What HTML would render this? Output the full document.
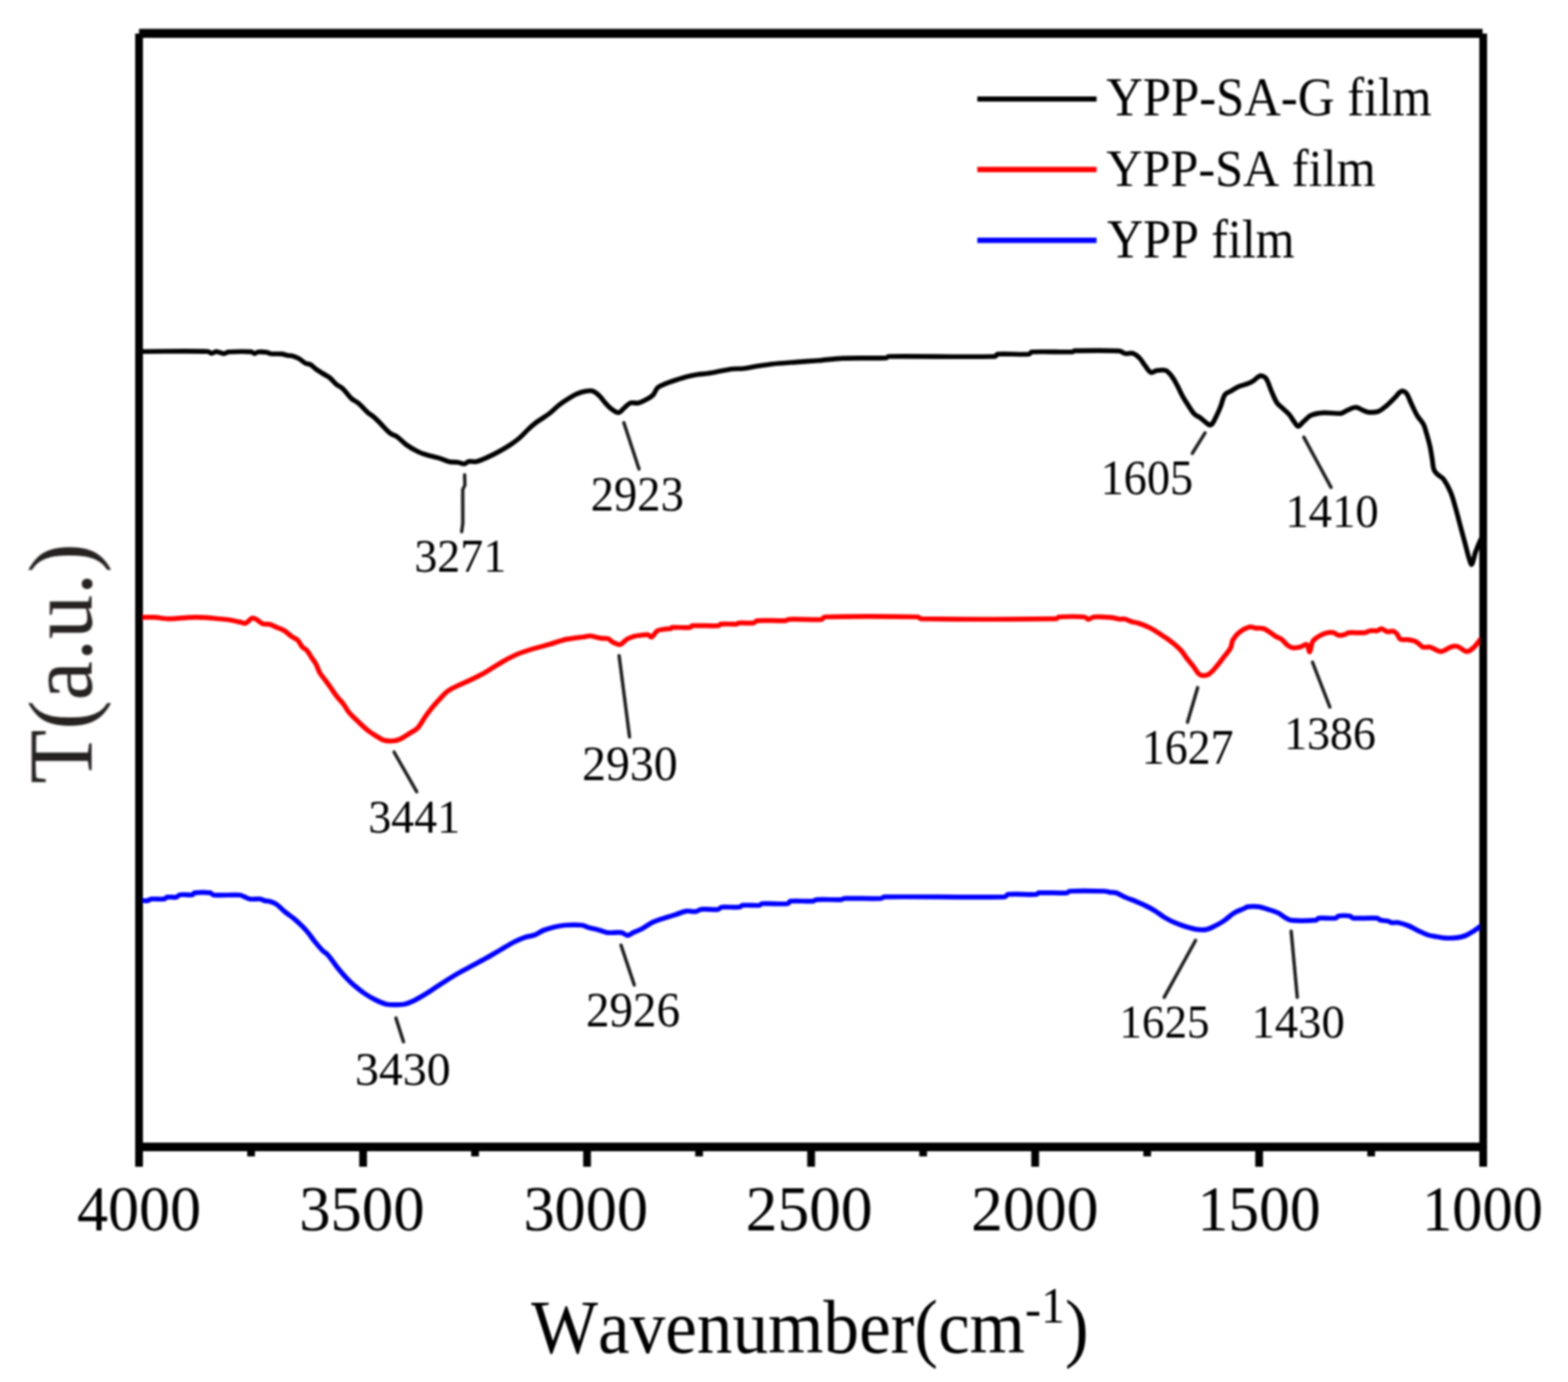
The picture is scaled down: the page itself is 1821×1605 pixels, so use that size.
<!DOCTYPE html><html><head><meta charset="utf-8"><title>FTIR</title><style>html,body{margin:0;padding:0;background:#fff;}svg{display:block;}text{font-family:'Liberation Serif','Times New Roman',serif;font-kerning:none;font-variant-ligatures:none;}</style></head><body>
<svg width="1821" height="1605" viewBox="0 0 1821 1605">
<defs><filter id="soft" x="0" y="0" width="1821" height="1605" filterUnits="userSpaceOnUse"><feGaussianBlur stdDeviation="0.8"/></filter></defs>
<rect width="1821" height="1605" fill="#fff"/>
<g filter="url(#soft)">
<g fill="none" stroke-linejoin="round" stroke-linecap="round">
<path d="M161.0 1045.4 C161.5 1045.4 162.1 1045.4 162.6 1045.4 C165.2 1045.6 167.9 1046.4 170.5 1046.1 C172.3 1045.9 173.9 1044.3 175.8 1044.1 C180.5 1043.6 185.6 1044.7 190.3 1044.1 C191.8 1043.9 192.8 1042.1 194.3 1041.9 C197.7 1041.4 201.5 1042.5 204.8 1041.9 C206.3 1041.6 207.3 1039.4 208.8 1039.2 C213.4 1038.5 218.7 1039.8 223.3 1039.2 C224.4 1039.1 224.8 1037.0 225.9 1036.9 C231.8 1036.3 238.4 1036.2 244.3 1036.9 C245.8 1037.1 246.7 1039.4 248.3 1039.5 C258.2 1040.2 268.6 1038.9 278.6 1039.5 C280.5 1039.6 282.1 1040.8 283.9 1041.5 C286.1 1042.4 288.2 1043.8 290.5 1044.1 C294.3 1044.6 298.4 1043.6 302.3 1044.1 C304.1 1044.3 305.8 1045.7 307.6 1046.1 C309.3 1046.5 311.2 1046.2 312.9 1046.7 C315.6 1047.5 318.5 1048.4 320.8 1050.0 C324.6 1052.6 327.7 1056.3 331.3 1059.3 C334.7 1062.1 338.5 1064.4 341.9 1067.2 C345.1 1069.9 348.2 1072.8 351.1 1075.7 C353.4 1078.0 355.6 1080.5 357.7 1083.0 C360.5 1086.4 362.8 1090.1 365.6 1093.5 C368.5 1097.1 371.5 1100.8 374.8 1104.1 C376.3 1105.7 378.5 1106.6 380.0 1108.2 C382.0 1110.2 383.6 1112.6 385.3 1114.8 C388.0 1118.3 390.4 1122.0 393.2 1125.4 C396.5 1129.5 400.0 1133.4 403.7 1137.2 C406.6 1140.2 409.8 1143.1 413.0 1145.8 C416.0 1148.3 419.0 1150.8 422.2 1153.0 C426.4 1155.9 430.8 1158.6 435.4 1160.9 C439.6 1163.0 444.0 1165.1 448.5 1166.2 C451.9 1167.1 455.6 1166.9 459.1 1166.9 C462.6 1166.9 466.2 1166.9 469.6 1166.2 C473.2 1165.4 476.8 1163.9 480.2 1162.3 C484.7 1160.2 489.0 1157.6 493.3 1155.0 C497.8 1152.3 502.1 1149.3 506.5 1146.4 C510.9 1143.6 515.3 1140.7 519.7 1137.9 C523.6 1135.4 527.6 1132.9 531.6 1130.6 C536.8 1127.6 542.1 1124.9 547.4 1122.1 C553.1 1119.0 558.8 1116.0 564.5 1112.8 C570.2 1109.6 575.9 1106.2 581.6 1102.9 C586.9 1099.8 592.0 1096.5 597.5 1093.7 C601.5 1091.7 605.7 1089.9 610.0 1088.5 C613.4 1087.4 617.2 1087.3 620.5 1086.0 C624.2 1084.6 627.4 1082.0 631.1 1080.5 C635.4 1078.8 639.8 1077.6 644.3 1076.5 C648.2 1075.6 652.1 1074.8 656.1 1074.5 C662.7 1074.1 669.4 1073.9 675.9 1074.5 C678.6 1074.8 681.1 1076.4 683.8 1077.2 C688.2 1078.4 692.6 1079.3 697.0 1080.5 C699.7 1081.2 702.2 1082.8 704.9 1083.1 C710.5 1083.7 716.5 1082.3 722.0 1083.1 C724.4 1083.4 726.4 1086.4 728.6 1086.4 C730.8 1086.4 733.0 1084.1 735.2 1083.1 C738.7 1081.5 742.4 1080.3 745.8 1078.5 C750.3 1076.1 754.3 1072.7 758.9 1070.6 C763.9 1068.3 769.4 1067.0 774.7 1065.3 C778.2 1064.2 781.8 1063.1 785.3 1062.0 C789.3 1060.7 793.1 1058.7 797.2 1058.1 C800.6 1057.6 804.3 1059.1 807.7 1058.7 C810.0 1058.4 812.0 1056.3 814.3 1056.1 C820.7 1055.5 827.6 1056.8 834.0 1056.1 C835.5 1055.9 836.5 1053.7 838.0 1053.5 C844.6 1052.8 851.8 1054.1 858.5 1053.5 C859.9 1053.4 861.0 1051.5 862.4 1051.4 C868.9 1050.8 875.8 1051.9 882.2 1051.4 C883.2 1051.3 883.7 1049.6 884.8 1049.5 C894.7 1048.9 905.4 1050.4 915.1 1049.5 C916.4 1049.4 916.5 1046.7 917.8 1046.6 C926.2 1045.8 935.4 1047.1 944.1 1046.6 C945.5 1046.5 946.7 1044.9 948.1 1044.8 C957.7 1044.3 967.5 1045.2 977.1 1044.8 C978.5 1044.7 979.6 1043.4 981.0 1043.4 C995.0 1043.0 1009.3 1043.9 1023.2 1043.4 C1024.6 1043.3 1025.7 1041.6 1027.1 1041.6 C1073.5 1041.0 1120.5 1042.5 1166.8 1041.6 C1168.4 1041.6 1169.2 1038.8 1170.8 1038.7 C1181.5 1037.9 1192.9 1039.2 1203.7 1038.7 C1204.8 1038.6 1205.3 1037.0 1206.4 1036.9 C1217.2 1036.4 1228.5 1037.5 1239.3 1036.9 C1240.4 1036.8 1240.8 1035.0 1241.9 1035.0 C1255.3 1034.4 1269.2 1034.7 1282.8 1035.0 C1284.6 1035.0 1286.3 1035.8 1288.1 1036.1 C1290.7 1036.5 1293.4 1036.4 1296.0 1036.9 C1297.4 1037.2 1298.7 1038.0 1300.0 1038.6 C1302.7 1039.9 1305.2 1041.3 1307.9 1042.5 C1311.8 1044.2 1315.9 1045.4 1319.8 1047.1 C1324.3 1049.0 1328.7 1050.9 1333.0 1053.1 C1336.1 1054.7 1339.2 1056.4 1342.2 1058.3 C1345.8 1060.6 1349.0 1063.4 1352.7 1065.6 C1356.9 1068.1 1361.4 1070.3 1365.9 1072.2 C1370.2 1074.0 1374.6 1075.4 1379.1 1076.8 C1382.5 1077.8 1386.0 1079.0 1389.6 1079.4 C1393.5 1079.9 1397.7 1080.1 1401.5 1079.4 C1404.7 1078.8 1407.7 1077.0 1410.7 1075.5 C1414.3 1073.7 1417.9 1071.8 1421.3 1069.5 C1425.4 1066.7 1428.9 1062.9 1433.1 1060.3 C1436.8 1058.1 1441.0 1056.8 1445.0 1055.0 C1446.3 1054.4 1447.5 1053.3 1448.9 1053.1 C1453.2 1052.6 1457.8 1052.6 1462.1 1053.1 C1465.2 1053.5 1468.3 1054.7 1471.3 1055.7 C1475.7 1057.1 1480.3 1058.3 1484.5 1060.3 C1487.3 1061.6 1489.6 1064.1 1492.4 1065.6 C1494.9 1067.0 1497.5 1068.7 1500.3 1068.9 C1509.4 1069.7 1519.0 1069.4 1528.1 1068.6 C1529.4 1068.5 1530.2 1066.4 1531.5 1066.3 C1537.8 1065.7 1544.8 1067.0 1551.1 1066.3 C1552.5 1066.1 1553.2 1063.9 1554.6 1063.7 C1558.6 1063.1 1563.2 1063.1 1567.3 1063.7 C1569.0 1064.0 1570.2 1066.2 1571.9 1066.3 C1580.9 1067.0 1590.6 1065.6 1599.6 1066.3 C1600.9 1066.4 1601.7 1068.2 1603.0 1068.6 C1605.9 1069.4 1609.3 1069.1 1612.3 1069.8 C1613.5 1070.1 1614.5 1071.3 1615.7 1071.5 C1618.3 1071.9 1621.2 1071.0 1623.8 1071.5 C1627.7 1072.2 1631.6 1073.5 1635.3 1075.0 C1639.3 1076.6 1643.0 1079.0 1646.9 1080.8 C1650.7 1082.6 1654.4 1084.6 1658.4 1085.9 C1661.3 1086.9 1664.5 1087.2 1667.6 1087.7 C1671.1 1088.3 1674.5 1089.2 1678.0 1089.4 C1683.0 1089.6 1688.1 1089.4 1693.0 1088.8 C1696.1 1088.4 1699.3 1087.7 1702.2 1086.5 C1705.4 1085.2 1708.4 1083.2 1711.4 1081.3 C1714.2 1079.5 1716.8 1077.6 1719.5 1075.6 C1720.4 1075.0 1721.2 1074.2 1722.0 1073.5" stroke="#0000ff" stroke-width="5.7"/>
<path d="M161.0 717.1 C162.0 717.1 163.0 717.1 164.0 717.1 C169.3 717.0 174.6 716.6 179.8 716.9 C184.2 717.1 188.6 718.3 193.0 718.5 C197.4 718.7 201.7 718.4 206.1 718.2 C210.5 718.0 214.9 717.3 219.3 717.1 C225.0 716.9 230.7 716.9 236.4 717.1 C241.7 717.3 247.0 718.0 252.3 718.5 C256.7 718.9 261.1 719.2 265.4 719.8 C269.8 720.5 274.2 721.5 278.6 722.4 C280.8 722.8 283.2 724.3 285.2 723.7 C288.1 722.8 290.3 718.6 293.1 717.8 C294.7 717.3 296.8 718.9 298.4 719.8 C300.7 721.1 302.6 723.5 305.0 724.4 C307.4 725.3 310.4 724.4 312.9 725.0 C315.6 725.7 318.2 727.2 320.8 728.3 C323.9 729.6 327.2 730.6 330.0 732.3 C333.3 734.3 336.0 737.3 339.2 739.5 C341.3 741.0 344.0 741.7 345.8 743.5 C348.0 745.7 349.0 749.1 351.1 751.4 C352.6 753.0 355.0 753.8 356.4 755.4 C358.5 757.7 359.9 760.7 361.6 763.3 C363.4 765.9 365.4 768.4 366.9 771.2 C368.7 774.5 369.5 778.2 371.4 781.4 C373.2 784.5 375.8 787.2 378.0 790.2 C379.9 792.7 381.7 795.3 383.5 797.9 C386.1 801.5 388.5 805.3 391.2 808.8 C393.6 811.9 396.5 814.5 398.8 817.6 C401.2 820.8 402.9 824.5 405.4 827.5 C408.7 831.4 412.6 834.9 416.4 838.5 C420.0 841.9 423.5 845.4 427.4 848.4 C430.5 850.9 433.9 852.9 437.3 855.0 C439.8 856.6 442.2 858.6 445.0 859.4 C448.5 860.4 452.4 860.7 456.0 860.5 C458.9 860.3 462.0 859.5 464.7 858.3 C468.6 856.6 472.1 854.0 475.7 851.7 C479.0 849.6 482.7 847.9 485.3 845.2 C488.5 841.8 490.5 837.2 493.2 833.3 C495.7 829.7 498.3 826.2 501.1 822.8 C504.0 819.2 507.1 815.7 510.3 812.3 C513.3 809.1 516.0 805.6 519.5 803.0 C523.5 800.1 528.2 798.0 532.7 795.8 C537.0 793.7 541.6 792.0 545.9 789.9 C551.2 787.3 556.5 784.7 561.7 781.9 C565.3 779.9 568.8 777.6 572.3 775.4 C576.7 772.7 580.9 769.9 585.4 767.4 C590.6 764.6 595.9 761.8 601.3 759.5 C606.9 757.2 612.6 755.4 618.4 753.6 C624.9 751.6 631.6 750.2 638.2 748.3 C644.8 746.4 651.2 743.8 657.9 742.4 C664.4 741.0 671.1 740.7 677.7 739.8 C680.3 739.4 683.0 738.3 685.6 738.5 C689.6 738.8 693.5 740.5 697.5 741.1 C700.5 741.6 703.8 741.0 706.6 741.9 C708.6 742.6 709.9 745.0 711.9 745.9 C714.5 747.2 717.8 749.0 720.4 748.5 C723.1 747.9 725.1 744.2 727.7 742.6 C730.1 741.1 732.9 740.2 735.6 739.3 C737.7 738.6 740.0 738.3 742.2 738.0 C745.7 737.6 749.4 736.9 752.7 737.3 C754.2 737.5 755.5 740.4 756.7 739.9 C759.1 738.9 760.7 734.4 763.3 732.7 C765.5 731.3 768.5 731.2 771.2 730.7 C773.8 730.3 776.6 730.5 779.1 730.0 C779.7 729.9 779.8 728.7 780.4 728.7 C787.3 728.3 794.7 729.3 801.5 728.7 C802.6 728.6 803.0 726.8 804.1 726.7 C814.0 726.1 824.5 727.3 834.4 726.7 C835.5 726.6 836.0 724.9 837.1 724.8 C843.1 724.3 849.5 725.2 855.5 724.8 C856.5 724.7 857.2 723.6 858.2 723.5 C863.8 723.1 869.8 724.2 875.3 723.5 C876.8 723.3 877.7 720.9 879.2 720.8 C890.0 720.0 901.3 721.2 912.2 720.8 C913.6 720.7 914.7 719.3 916.1 719.3 C928.7 718.8 941.8 720.1 954.2 719.3 C955.6 719.2 956.1 716.5 957.5 716.5 C993.4 715.6 1030.2 715.8 1066.2 716.5 C1067.5 716.5 1068.2 718.7 1069.5 718.7 C1121.6 719.4 1174.4 719.4 1226.5 718.7 C1227.8 718.7 1228.5 716.6 1229.8 716.5 C1239.5 715.9 1249.8 715.7 1259.5 716.5 C1261.2 716.6 1262.4 719.3 1263.9 719.3 C1266.0 719.3 1268.2 716.7 1270.5 716.5 C1276.9 716.0 1283.7 716.5 1290.2 717.1 C1293.5 717.4 1296.7 718.6 1300.0 719.0 C1302.2 719.3 1304.5 718.5 1306.6 719.0 C1309.3 719.6 1311.8 721.3 1314.5 722.1 C1316.6 722.8 1319.0 722.8 1321.1 723.5 C1324.7 724.6 1328.2 725.9 1331.6 727.4 C1334.3 728.6 1336.9 729.9 1339.5 731.4 C1342.7 733.2 1345.7 735.3 1348.8 737.3 C1351.5 739.0 1354.1 740.7 1356.7 742.6 C1359.8 744.9 1363.0 747.2 1365.9 749.8 C1368.2 751.8 1370.5 754.0 1372.5 756.4 C1374.9 759.3 1376.8 762.6 1379.1 765.6 C1381.2 768.3 1383.6 770.8 1385.7 773.5 C1388.0 776.5 1389.7 780.3 1392.3 782.8 C1393.6 784.0 1395.7 784.7 1397.5 784.7 C1399.7 784.7 1402.3 784.0 1404.1 782.8 C1407.1 780.8 1409.6 777.7 1412.0 774.9 C1415.3 771.1 1418.2 767.0 1421.3 763.0 C1424.0 759.5 1427.2 756.2 1429.2 752.4 C1430.7 749.6 1430.3 745.9 1431.8 743.2 C1433.8 739.8 1436.6 736.4 1439.7 734.0 C1443.2 731.4 1447.5 729.1 1451.6 728.1 C1453.7 727.6 1456.0 729.1 1458.2 729.4 C1461.2 729.8 1464.5 729.1 1467.4 730.0 C1470.2 730.9 1472.7 733.0 1475.3 734.7 C1477.6 736.1 1479.6 737.9 1481.9 739.3 C1484.0 740.6 1486.6 741.1 1488.5 742.6 C1491.0 744.4 1492.6 747.4 1495.1 749.2 C1497.0 750.6 1499.3 752.1 1501.6 752.4 C1504.6 752.8 1507.9 751.8 1510.9 751.1 C1513.2 750.5 1516.0 747.6 1517.5 748.5 C1519.4 749.6 1520.0 757.4 1521.0 757.0 C1522.2 756.5 1522.6 749.5 1524.0 746.0 C1524.6 744.6 1525.7 743.3 1526.9 742.3 C1529.0 740.5 1531.3 738.9 1533.8 737.7 C1536.3 736.4 1539.1 735.3 1541.9 734.8 C1544.1 734.4 1546.6 734.3 1548.8 734.8 C1550.9 735.3 1552.6 737.3 1554.6 737.7 C1556.8 738.1 1559.3 737.7 1561.5 737.1 C1563.1 736.7 1564.4 735.0 1566.1 734.8 C1572.1 734.2 1578.5 735.4 1584.6 734.8 C1587.0 734.6 1589.1 732.9 1591.5 732.5 C1594.1 732.1 1597.0 733.0 1599.6 732.5 C1601.2 732.2 1602.7 730.1 1604.2 730.2 C1606.5 730.4 1608.7 733.1 1611.1 733.6 C1613.3 734.1 1615.9 732.6 1618.0 733.1 C1619.7 733.5 1621.4 735.1 1622.6 736.5 C1624.1 738.2 1624.3 741.4 1626.1 742.3 C1628.5 743.5 1632.3 742.4 1635.3 742.9 C1638.4 743.4 1641.8 743.8 1644.6 745.2 C1647.6 746.7 1649.6 750.3 1652.6 751.5 C1655.0 752.4 1658.1 750.9 1660.7 751.5 C1665.1 752.6 1669.2 756.8 1673.4 756.7 C1677.7 756.6 1681.7 752.2 1686.1 750.9 C1688.3 750.3 1690.9 750.2 1693.0 750.9 C1696.7 752.1 1699.9 756.5 1703.4 756.7 C1706.1 756.9 1709.1 754.1 1711.4 752.1 C1714.5 749.3 1716.8 745.6 1719.5 742.3 C1720.4 741.2 1721.2 740.1 1722.0 739.0" stroke="#ff0000" stroke-width="5.7"/>
<path d="M161.0 408.2 C162.4 408.2 163.9 408.2 165.3 408.2 C190.8 408.2 216.4 407.5 241.7 408.2 C243.2 408.2 244.3 410.4 245.7 410.4 C247.4 410.4 249.1 408.6 250.9 408.4 C252.2 408.2 253.6 408.9 254.9 409.2 C256.7 409.6 258.5 410.7 260.2 410.6 C262.0 410.5 263.6 408.9 265.4 408.8 C274.1 408.2 283.1 408.1 291.8 408.6 C293.2 408.7 294.4 410.6 295.7 410.6 C297.0 410.6 298.3 408.9 299.7 408.8 C303.1 408.5 306.8 408.7 310.2 409.2 C311.6 409.4 312.8 410.6 314.2 410.8 C318.5 411.3 323.0 410.7 327.4 411.1 C329.6 411.3 331.8 412.4 334.0 412.8 C335.7 413.1 337.5 412.7 339.2 413.2 C341.9 413.9 344.6 415.0 347.1 416.4 C349.9 418.0 352.3 420.5 355.1 422.0 C356.7 422.8 358.8 422.4 360.3 423.3 C362.7 424.6 364.6 427.0 366.9 428.6 C369.9 430.7 373.0 432.6 376.1 434.5 C378.3 435.9 380.7 436.9 382.7 438.5 C385.6 440.8 387.8 444.0 390.6 446.4 C392.8 448.3 395.8 449.2 397.9 451.2 C401.8 454.8 404.6 459.5 408.5 463.1 C410.8 465.2 414.0 466.3 416.4 468.3 C420.2 471.5 423.2 475.6 426.9 478.9 C429.3 481.1 432.3 482.6 434.8 484.8 C437.6 487.2 440.1 490.1 442.7 492.7 C446.2 496.2 449.4 500.3 453.3 503.3 C455.6 505.1 458.8 505.5 461.2 507.2 C465.0 509.9 467.9 513.7 471.7 516.4 C475.8 519.4 480.3 522.0 484.9 524.3 C488.2 526.0 491.8 527.2 495.4 528.3 C499.7 529.6 504.3 530.3 508.6 531.6 C513.1 532.9 517.3 535.2 521.8 536.2 C525.2 537.0 528.9 536.4 532.3 536.9 C534.6 537.2 536.8 539.0 538.9 538.8 C540.7 538.7 542.3 536.4 544.2 536.0 C547.1 535.4 550.5 536.7 553.4 536.0 C557.9 535.0 562.3 532.8 566.6 530.9 C571.1 528.9 575.5 526.7 579.8 524.3 C584.3 521.8 588.7 519.2 593.0 516.4 C596.6 514.0 600.2 511.4 603.5 508.5 C607.2 505.2 610.5 501.4 614.1 498.0 C616.3 495.9 618.6 493.9 621.0 492.0 C623.2 490.3 625.6 488.7 627.9 487.1 C631.4 484.7 635.1 482.5 638.5 479.9 C642.2 477.0 645.3 473.5 649.0 470.6 C652.3 468.0 655.9 465.6 659.5 463.4 C662.9 461.2 666.4 459.0 670.1 457.4 C673.4 455.9 677.0 454.8 680.6 454.2 C683.2 453.8 686.2 453.3 688.5 454.2 C691.4 455.3 694.0 457.8 696.4 460.1 C698.9 462.4 700.7 465.5 703.0 468.0 C705.1 470.3 707.1 472.8 709.6 474.6 C712.2 476.5 715.5 479.2 718.2 479.2 C720.3 479.2 722.2 476.2 724.1 474.6 C726.8 472.4 729.0 469.2 732.0 468.0 C734.7 467.0 738.3 468.6 741.3 468.0 C744.5 467.3 747.6 465.6 750.5 464.0 C753.3 462.5 756.3 461.0 758.4 458.8 C760.7 456.4 761.3 452.4 763.7 450.2 C766.1 448.0 769.7 446.9 772.9 445.6 C777.2 443.8 781.7 442.5 786.1 441.0 C789.6 439.8 793.0 438.6 796.6 437.7 C800.9 436.6 805.4 435.7 809.8 435.0 C813.7 434.4 817.7 434.3 821.6 433.7 C826.5 433.0 831.3 432.0 836.1 431.1 C840.9 430.2 845.7 429.1 850.6 428.5 C854.8 428.0 859.0 428.5 863.2 428.0 C868.5 427.4 873.7 426.1 879.0 425.3 C885.1 424.4 891.2 423.3 897.4 422.7 C906.2 421.8 915.0 421.3 923.8 420.6 C932.6 419.9 941.4 419.4 950.2 418.7 C959.9 417.9 969.5 416.5 979.2 416.1 C995.8 415.4 1012.7 416.3 1029.2 415.6 C1030.2 415.6 1030.9 414.0 1031.9 414.0 C1073.0 413.5 1114.8 414.9 1155.7 414.0 C1157.0 414.0 1157.2 411.4 1158.4 411.3 C1170.4 410.5 1183.3 412.1 1195.3 411.3 C1196.5 411.2 1196.7 408.8 1197.9 408.7 C1213.4 407.9 1229.7 409.1 1245.4 408.7 C1246.4 408.7 1247.0 407.4 1248.0 407.4 C1265.2 407.1 1282.9 406.7 1300.0 407.6 C1302.4 407.7 1304.3 410.2 1306.6 410.6 C1309.5 411.1 1313.0 409.5 1315.8 410.4 C1318.7 411.3 1321.5 413.8 1323.7 416.1 C1326.3 418.8 1327.9 422.4 1330.3 425.3 C1332.3 427.9 1334.3 431.6 1336.9 432.6 C1338.7 433.3 1341.2 430.6 1343.5 430.3 C1346.9 429.8 1351.1 429.0 1354.0 430.3 C1357.2 431.7 1359.6 435.5 1361.9 438.5 C1364.0 441.3 1365.5 444.6 1367.2 447.7 C1369.5 452.0 1371.4 456.6 1373.8 460.9 C1375.8 464.5 1378.1 468.0 1380.4 471.4 C1382.5 474.6 1384.4 478.1 1387.0 480.7 C1389.2 482.9 1392.4 484.0 1394.9 485.9 C1397.6 487.9 1400.0 490.8 1402.8 492.5 C1403.9 493.2 1405.9 494.0 1406.8 493.2 C1409.0 491.3 1410.5 487.6 1412.0 484.6 C1414.0 480.8 1415.7 476.8 1417.3 472.8 C1419.2 468.0 1420.0 462.4 1422.6 458.3 C1423.9 456.2 1427.0 455.6 1429.2 454.3 C1432.2 452.5 1435.2 450.4 1438.4 449.0 C1441.7 447.5 1445.5 447.0 1448.9 445.7 C1451.2 444.8 1453.4 443.7 1455.5 442.4 C1458.3 440.6 1460.6 437.1 1463.4 436.5 C1465.4 436.1 1468.7 437.4 1470.0 439.2 C1473.1 443.3 1474.3 449.3 1476.6 454.3 C1478.7 458.9 1480.4 464.0 1483.2 468.1 C1485.2 471.0 1488.5 472.9 1491.1 475.4 C1493.3 477.6 1495.7 479.6 1497.7 482.0 C1499.7 484.4 1501.1 487.4 1503.0 489.9 C1504.4 491.8 1506.0 495.2 1507.6 495.2 C1509.5 495.2 1511.5 491.6 1513.5 489.9 C1516.5 487.3 1519.2 483.9 1522.7 482.3 C1527.1 480.4 1532.3 479.7 1537.2 479.4 C1543.8 479.0 1550.8 480.8 1557.3 480.1 C1559.9 479.8 1562.0 477.6 1564.4 476.6 C1567.7 475.2 1571.2 473.0 1574.5 473.0 C1577.4 473.0 1580.2 475.4 1583.1 476.6 C1585.0 477.3 1586.8 478.5 1588.8 478.7 C1592.6 479.0 1596.8 479.1 1600.3 478.0 C1603.5 477.0 1606.3 474.5 1608.9 472.3 C1612.9 469.0 1616.5 465.1 1620.3 461.5 C1622.7 459.1 1624.8 455.3 1627.5 454.3 C1629.1 453.7 1632.0 455.0 1633.2 456.5 C1635.8 459.8 1637.0 464.7 1639.0 468.7 C1641.3 473.5 1643.4 478.4 1646.1 483.0 C1648.2 486.5 1651.4 489.4 1653.3 493.0 C1654.7 495.6 1655.3 498.7 1656.2 501.6 C1657.7 506.8 1659.3 512.1 1660.5 517.4 C1661.7 522.6 1662.4 527.9 1663.3 533.2 C1664.0 537.5 1664.0 542.2 1665.5 546.1 C1666.4 548.4 1668.7 550.1 1670.5 551.8 C1672.2 553.4 1674.8 554.2 1676.2 556.1 C1679.6 560.9 1682.5 566.4 1684.8 571.9 C1687.3 577.9 1688.8 584.3 1690.6 590.5 C1692.6 597.6 1694.4 604.8 1696.3 612.0 C1698.2 619.2 1700.2 626.3 1702.1 633.5 C1703.5 638.8 1704.7 644.3 1706.4 649.5 C1707.1 651.6 1708.5 656.3 1709.2 655.5 C1710.8 653.7 1711.9 646.1 1713.5 641.5 C1715.0 637.3 1716.7 633.3 1718.5 629.2 C1719.6 626.8 1720.8 624.4 1722.0 622.0" stroke="#000" stroke-width="5.6"/>
<path d="M539.6 551.5 L539.9 563.5 L537.4 568.5 L537.5 607.5 L536.2 617.5" stroke="#1c1c1c" stroke-width="3.9"/>
<path d="M724.5 490.9 L742.1 544.7" stroke="#1c1c1c" stroke-width="3.9"/>
<path d="M1399.5 502.7 L1384.7 526.5" stroke="#1c1c1c" stroke-width="3.9"/>
<path d="M1514.2 507.7 L1545.8 566.0" stroke="#1c1c1c" stroke-width="3.9"/>
<path d="M457.6 873.4 L484.0 919.5" stroke="#1c1c1c" stroke-width="3.9"/>
<path d="M719.0 761.4 L731.1 855.8" stroke="#1c1c1c" stroke-width="3.9"/>
<path d="M1390.9 798.6 L1379.1 838.8" stroke="#1c1c1c" stroke-width="3.9"/>
<path d="M1524.3 769.1 L1544.4 821.1" stroke="#1c1c1c" stroke-width="3.9"/>
<path d="M459.8 1182.3 L468.6 1209.8" stroke="#1c1c1c" stroke-width="3.9"/>
<path d="M721.2 1097.7 L736.6 1143.9" stroke="#1c1c1c" stroke-width="3.9"/>
<path d="M1388.5 1092.1 L1352.0 1158.2" stroke="#1c1c1c" stroke-width="3.9"/>
<path d="M1499.5 1081.5 L1506.6 1158.2" stroke="#1c1c1c" stroke-width="3.9"/>
</g>
<g stroke-width="6.2" stroke-linecap="butt">
<line x1="1135" y1="115" x2="1273.5" y2="115" stroke="#000"/>
<line x1="1135" y1="196.9" x2="1273.5" y2="196.9" stroke="#ff0000"/>
<line x1="1135" y1="279.2" x2="1273.5" y2="279.2" stroke="#0000ff"/>
</g>
<g fill="#000">
<rect x="161.5" y="33.5" width="1560.3" height="10.5"/>
<rect x="157" y="39" width="9" height="1316"/>
<rect x="1718" y="39" width="9" height="1298"/>
<rect x="157" y="1327" width="1570" height="10"/>
<rect x="287.1" y="1330" width="9" height="13.0"/>
<rect x="417.2" y="1330" width="9" height="25.0"/>
<rect x="547.2" y="1330" width="9" height="13.0"/>
<rect x="677.3" y="1330" width="9" height="25.0"/>
<rect x="807.4" y="1330" width="9" height="13.0"/>
<rect x="937.5" y="1330" width="9" height="25.0"/>
<rect x="1067.6" y="1330" width="9" height="13.0"/>
<rect x="1197.7" y="1330" width="9" height="25.0"/>
<rect x="1327.8" y="1330" width="9" height="13.0"/>
<rect x="1457.8" y="1330" width="9" height="25.0"/>
<rect x="1587.9" y="1330" width="9" height="13.0"/>
<rect x="1718.0" y="1330" width="9" height="25"/>
</g>
<text transform="translate(481.15 664.05) scale(0.9523 0.9993)" font-size="56" fill="#000">3271</text>
<text transform="translate(686.02 593.25) scale(0.9660 1.0100)" font-size="56" fill="#000">2923</text>
<text transform="translate(1278.17 574.34) scale(0.9610 1.0215)" font-size="56" fill="#000">1605</text>
<text transform="translate(1492.63 612.36) scale(0.9700 0.9791)" font-size="56" fill="#000">1410</text>
<text transform="translate(427.65 967.36) scale(0.9532 0.9940)" font-size="56" fill="#000">3441</text>
<text transform="translate(675.96 905.84) scale(0.9916 1.0188)" font-size="56" fill="#000">2930</text>
<text transform="translate(1326.02 886.65) scale(0.9510 1.0047)" font-size="56" fill="#000">1627</text>
<text transform="translate(1491.32 870.05) scale(0.9515 0.9976)" font-size="56" fill="#000">1386</text>
<text transform="translate(412.14 1259.76) scale(0.9936 0.9871)" font-size="56" fill="#000">3430</text>
<text transform="translate(680.40 1191.64) scale(0.9771 1.0206)" font-size="56" fill="#000">2926</text>
<text transform="translate(1300.10 1204.87) scale(0.9343 0.9728)" font-size="56" fill="#000">1625</text>
<text transform="translate(1453.44 1204.87) scale(0.9672 0.9685)" font-size="56" fill="#000">1430</text>
<text transform="translate(89.49 1429.47) scale(0.9733 1.0093)" font-size="74" fill="#000">4000</text>
<text transform="translate(347.41 1429.47) scale(0.9842 1.0093)" font-size="74" fill="#000">3500</text>
<text transform="translate(607.94 1429.47) scale(0.9771 1.0093)" font-size="74" fill="#000">3000</text>
<text transform="translate(866.06 1429.47) scale(0.9963 1.0093)" font-size="74" fill="#000">2500</text>
<text transform="translate(1127.75 1429.47) scale(1.0005 1.0093)" font-size="74" fill="#000">2000</text>
<text transform="translate(1390.72 1429.47) scale(0.9663 1.0093)" font-size="74" fill="#000">1500</text>
<text transform="translate(1651.42 1429.47) scale(0.9497 1.0093)" font-size="74" fill="#000">1000</text>
<text transform="translate(1284.74 134.00) scale(0.9347 0.9891)" font-size="63" fill="#000" xml:space="preserve">YPP-SA-G film</text>
<text transform="translate(1284.74 216.10) scale(0.9261 0.9866)" font-size="63" fill="#000" xml:space="preserve">YPP-SA film</text>
<text transform="translate(1285.65 298.80) scale(0.9219 1.0133)" font-size="63" fill="#000" xml:space="preserve">YPP film</text>
<text transform="translate(616.50 1570.50) scale(0.9398 1.0000)" font-size="88" fill="#000">Wavenumber(cm<tspan font-size="59" dy="-31">-</tspan><tspan font-size="59" dy="-4">1</tspan><tspan dy="35">)</tspan></text>
<text transform="translate(105.96 910.14) rotate(-90) scale(0.9681 1.0063)" font-size="106" fill="#262221">T(a.u.)</text>
</g>
</svg></body></html>
